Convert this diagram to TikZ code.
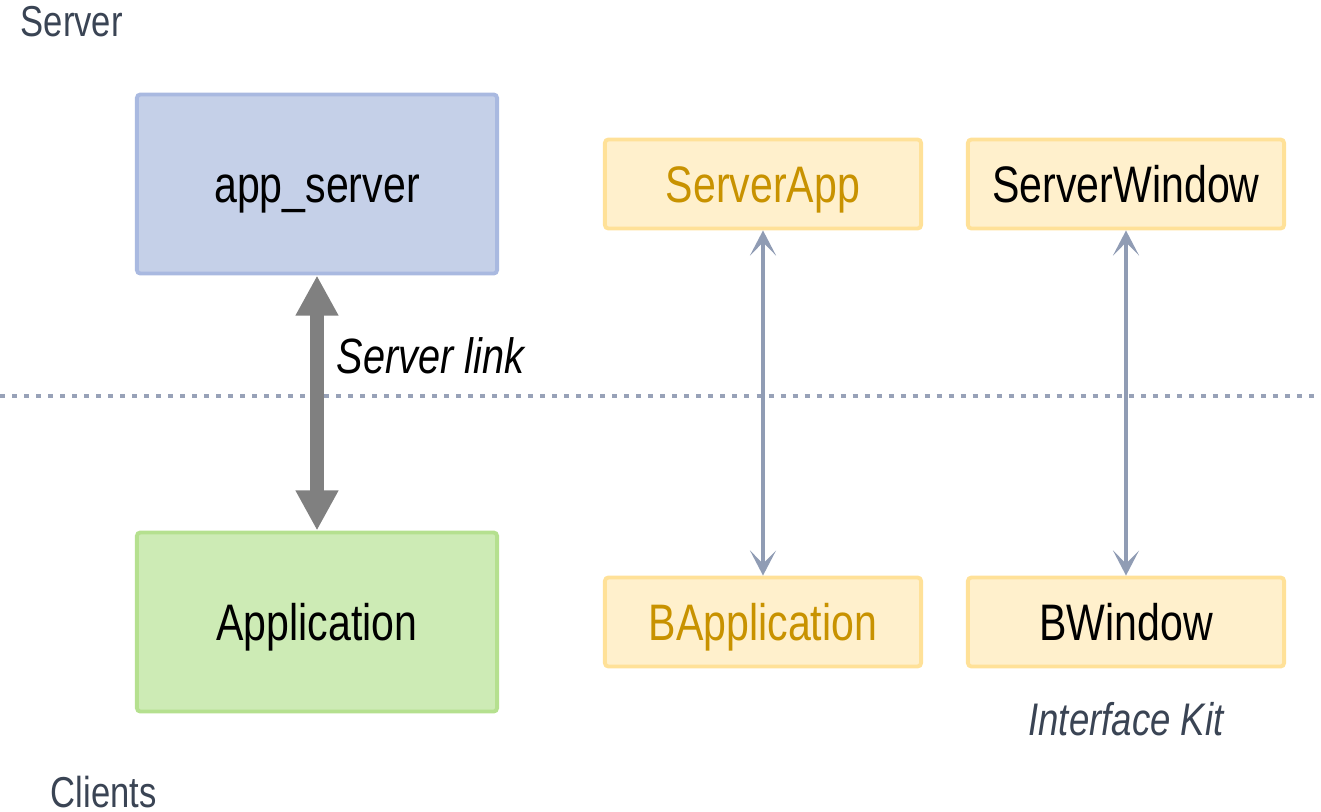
\documentclass[tikz,border=0pt]{standalone}
\usepackage{fontspec}
\setmainfont{Liberation Sans}[FakeStretch=0.8]
\usetikzlibrary{arrows.meta}

\definecolor{blueF}{HTML}{C5D0E8}
\definecolor{blueB}{HTML}{A9B9E0}
\definecolor{greenF}{HTML}{CDEBB5}
\definecolor{greenB}{HTML}{B5E08F}
\definecolor{yelF}{HTML}{FFF0CC}
\definecolor{yelB}{HTML}{FFE198}
\definecolor{gold}{HTML}{C89200}
\definecolor{slate}{HTML}{3A4454}
\definecolor{linkG}{HTML}{909CB4}
\definecolor{sepG}{HTML}{98A2B8}

\tikzstyle{bigS}=[line width=1.1pt,minimum width=3.6cm,minimum height=1.79cm,inner sep=0pt,rounded corners=1pt,draw,text height=10.4pt,text depth=0pt,font=\fontsize{14.6}{17}\selectfont]
\tikzstyle{sS}=[line width=1.1pt,minimum width=3.16cm,minimum height=0.89cm,inner sep=0pt,rounded corners=1pt,draw=yelB,fill=yelF,text height=10.4pt,text depth=0pt,font=\fontsize{14.6}{17}\selectfont]
\tikzstyle{tS}=[inner sep=0pt,text=slate,font=\fontsize{12.3}{14}\selectfont]
\tikzstyle{lS}=[inner sep=0pt,font=\fontsize{14.1}{16}\selectfont\itshape]
\tikzstyle{eBig}=[line width=4pt,draw=gray,{Triangle[width=0.4cm,length=0.4cm]}-{Triangle[width=0.4cm,length=0.4cm]}]
\tikzstyle{eS}=[line width=1.2pt,draw=linkG,{Stealth[width=0.26cm,length=0.25cm,inset=0.13cm]}-{Stealth[width=0.26cm,length=0.25cm,inset=0.13cm]}]
\tikzstyle{eSep}=[line width=1.4pt,draw=sepG,dash pattern=on 0.05cm off 0.07cm]

\begin{document}
\begin{tikzpicture}[x=0.01cm,y=-0.01cm]
                \useasboundingbox (0,0) rectangle (1321,812);
                \draw (317,184) node[bigS,draw=blueB,fill=blueF] (srv) {app\_server};
                \draw (317,622) node[bigS,draw=greenB,fill=greenF] (app) {Application};
                \draw (763,184) node[sS,text=gold] (sapp) {ServerApp};
                \draw (1126,184) node[sS] (swin) {ServerWindow};
                \draw (763,622) node[sS,text=gold] (bapp) {BApplication};
                \draw (1126,622) node[sS] (bwin) {BWindow};
                \draw (20,37) node[tS,anchor=base west] (lsrv) {Server};
                \draw (50,807) node[tS,anchor=base west] (lcli) {Clients};
                \draw (336,373) node[lS,anchor=base west] (llink) {Server link};
                \draw (1126,735) node[lS,anchor=base,text=slate,font=\fontsize{13}{15}\selectfont\itshape] (lkit) {Interface Kit};
                \coordinate (dL) at (0,396);
                \coordinate (dR) at (1321,396);
                \path
                    (dL) edge[eSep] (dR)
                    (srv) edge[eBig] (app)
                    (sapp) edge[eS] (bapp)
                    (swin) edge[eS] (bwin)
                ;
        \end{tikzpicture}
\end{document}
